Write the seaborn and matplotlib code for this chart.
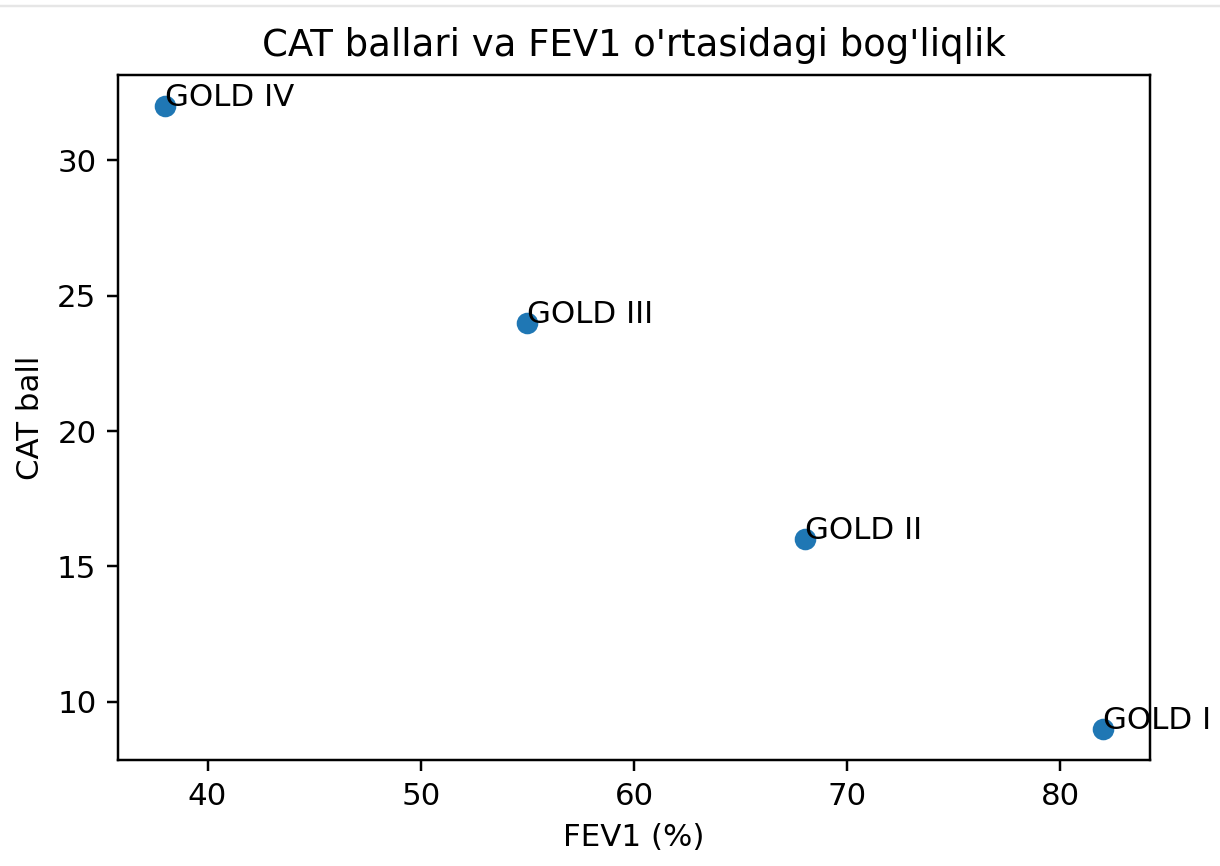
import matplotlib
matplotlib.use("Agg")
import matplotlib.pyplot as plt
import pandas as pd
import seaborn as sns
from matplotlib.lines import Line2D

# GOLD stages vs FEV1 and CAT score
stages = ["GOLD I", "GOLD II", "GOLD III", "GOLD IV"]
fev1 = [82, 68, 55, 38]
cat_score = [9, 16, 24, 32]

df = pd.DataFrame({"stage": stages, "fev1": fev1, "cat": cat_score})

plt.rcParams["font.family"] = ["DejaVu Sans"]

dpi = 222
fig = plt.figure(figsize=(1220 / dpi, 866 / dpi), dpi=dpi)
ax = fig.add_axes([118 / 1220, 1 - 760 / 866, (1150 - 118) / 1220, (760 - 75) / 866])

# matplotlib's default scatter: face-coloured edge of width 1
sns.scatterplot(data=df, x="fev1", y="cat", ax=ax, color="#1f77b4",
                s=36, linewidth=1, edgecolor="#1f77b4")

for _, row in df.iterrows():
    ax.text(row["fev1"], row["cat"], row["stage"])

ax.set_title("CAT ballari va FEV1 o'rtasidagi bog'liqlik")
ax.set_xlabel("FEV1 (%)")
ax.set_ylabel("CAT ball")

# faint screenshot border at the top
fig.add_artist(Line2D([0, 1], [1 - 6 / 866, 1 - 6 / 866], transform=fig.transFigure,
                      color="#e6e6e6", linewidth=0.8))

fig.savefig("out.png", dpi=dpi)
